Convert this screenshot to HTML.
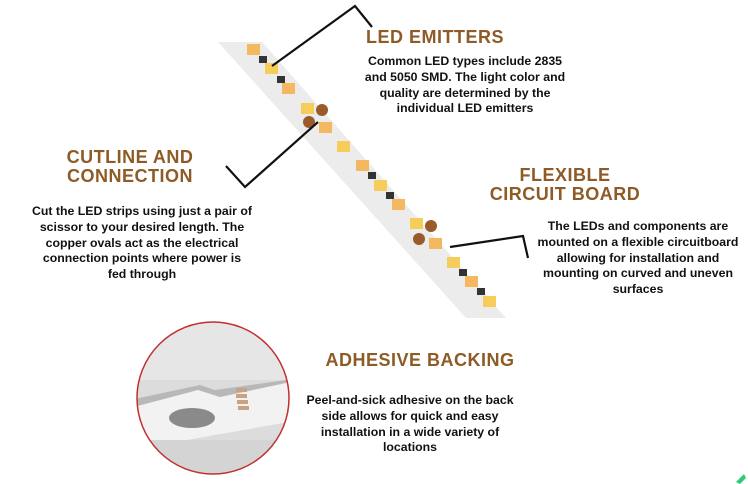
<!DOCTYPE html>
<html><head><style>
html,body{margin:0;padding:0;background:#fff;}
body{width:748px;height:484px;position:relative;overflow:hidden;font-family:"Liberation Sans",sans-serif;}
.h{position:absolute;color:#8e5a26;font-weight:bold;font-size:18px;letter-spacing:0.5px;text-align:center;line-height:19px;white-space:nowrap;}
.t{position:absolute;color:#111;font-weight:bold;font-size:12.3px;line-height:15.8px;text-align:center;white-space:nowrap;}
</style></head><body>
<svg width="748" height="484" style="position:absolute;left:0;top:0">
  <defs><clipPath id="cc"><circle cx="213" cy="398" r="76"/></clipPath></defs>
  <polygon points="218,42 262,42 506,318 466,318" fill="#ececec"/>
  <g id="leds">
    <rect x="247" y="44" width="13" height="11" fill="#f4b860"/>
    <rect x="265" y="63" width="13" height="11" fill="#f6cc5a"/>
    <rect x="282" y="83" width="13" height="11" fill="#f4b860"/>
    <rect x="301" y="103" width="13" height="11" fill="#f6cc5a"/>
    <rect x="319" y="122" width="13" height="11" fill="#f4b860"/>
    <rect x="337" y="141" width="13" height="11" fill="#f6cc5a"/>
    <rect x="356" y="160" width="13" height="11" fill="#f4b860"/>
    <rect x="374" y="180" width="13" height="11" fill="#f6cc5a"/>
    <rect x="392" y="199" width="13" height="11" fill="#f4b860"/>
    <rect x="410" y="218" width="13" height="11" fill="#f6cc5a"/>
    <rect x="429" y="238" width="13" height="11" fill="#f4b860"/>
    <rect x="447" y="257" width="13" height="11" fill="#f6cc5a"/>
    <rect x="465" y="276" width="13" height="11" fill="#f4b860"/>
    <rect x="483" y="296" width="13" height="11" fill="#f6cc5a"/>
  </g>
  <g fill="#333">
    <rect x="259" y="56" width="8" height="7"/><rect x="277" y="76" width="8" height="7"/>
    <rect x="368" y="172" width="8" height="7"/><rect x="386" y="192" width="8" height="7"/>
    <rect x="459" y="269" width="8" height="7"/><rect x="477" y="288" width="8" height="7"/>
  </g>
  <g fill="#9a5a2a">
    <ellipse cx="322" cy="110" rx="6" ry="6"/><ellipse cx="309" cy="122" rx="6" ry="6"/>
    <ellipse cx="431" cy="226" rx="6" ry="6"/><ellipse cx="419" cy="239" rx="6" ry="6"/>
  </g>
  <g stroke="#111" stroke-width="2.2" fill="none">
    <polyline points="272,66 355,6 372,27"/>
    <polyline points="318,122 245,187 226,166"/>
    <polyline points="450,247 523,236 528,258"/>
  </g>
  <circle cx="213" cy="398" r="76" fill="#dcdcdc"/>
  <g clip-path="url(#cc)">
    <rect x="130" y="320" width="170" height="60" fill="#e6e6e6"/>
    <polygon points="130,400 200,385 215,390 300,378 300,395 130,430" fill="#b8b8b8"/>
    <polygon points="130,408 198,390 220,397 300,380 300,420 130,450" fill="#f2f2f2"/>
    <ellipse cx="192" cy="418" rx="23" ry="10" fill="#8a8a8a"/>
    <g fill="#c8a282"><rect x="236" y="388" width="11" height="4"/><rect x="236" y="394" width="11" height="4"/><rect x="237" y="400" width="11" height="4"/><rect x="238" y="406" width="11" height="4"/></g>
    <rect x="130" y="440" width="170" height="40" fill="#d4d4d4"/>
  </g>
  <circle cx="213" cy="398" r="76" fill="none" stroke="#c0302e" stroke-width="1.5"/>
  <polygon points="736,482 744,474 746,478 740,484" fill="#2ecc71"/>
</svg>
<div class="h" style="left:355px;top:28px;width:160px">LED EMITTERS</div>
<div class="t" style="left:335px;top:54px;width:260px">Common LED types include 2835<br>and 5050 SMD. The light color and<br>quality are determined by the<br>individual LED emitters</div>
<div class="h" style="left:50px;top:148px;width:160px">CUTLINE AND<br>CONNECTION</div>
<div class="t" style="left:12px;top:204px;width:260px">Cut the LED strips using just a pair of<br>scissor to your desired length. The<br>copper ovals act as the electrical<br>connection points where power is<br>fed through</div>
<div class="h" style="left:480px;top:166px;width:170px">FLEXIBLE<br>CIRCUIT BOARD</div>
<div class="t" style="left:508px;top:219px;width:260px">The LEDs and components are<br>mounted on a flexible circuitboard<br>allowing for installation and<br>mounting on curved and uneven<br>surfaces</div>
<div class="h" style="left:310px;top:351px;width:220px">ADHESIVE BACKING</div>
<div class="t" style="left:290px;top:393px;width:240px">Peel-and-sick adhesive on the back<br>side allows for quick and easy<br>installation in a wide variety of<br>locations</div>
</body></html>
